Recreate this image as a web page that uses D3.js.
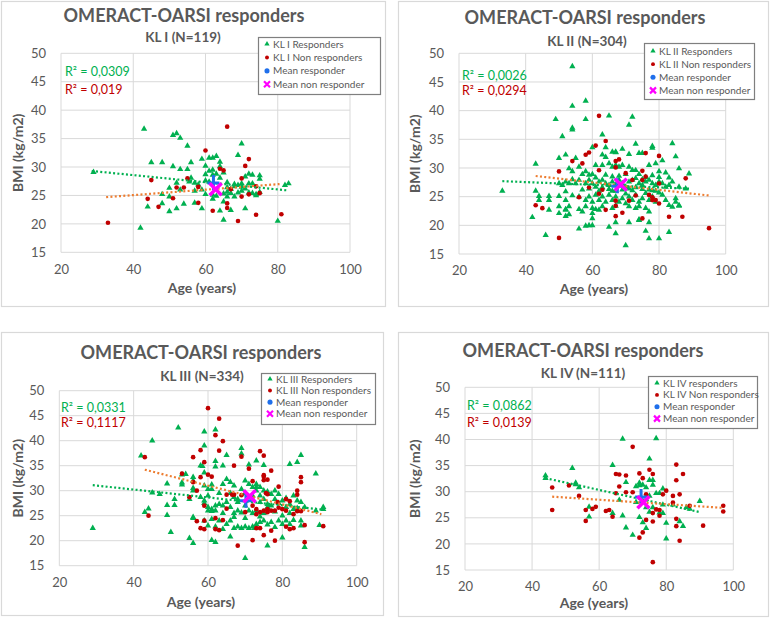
<!DOCTYPE html>
<html>
<head>
<meta charset="utf-8">
<script src="https://cdn.jsdelivr.net/npm/d3@7"></script>
<style>
  html, body { margin: 0; padding: 0; background: #ffffff; }
  svg { display: block; }
  text { font-family: Lato, "Open Sans", "Liberation Sans", sans-serif; }
</style>
</head>
<body>
<svg id="chart" width="770" height="618"></svg>
<script>
// ---------------- DATA ----------------
const xTicks = [20, 40, 60, 80, 100];
const yTicks = [15, 20, 25, 30, 35, 40, 45, 50];
const xTitle = "Age (years)";
const yTitle = "BMI (kg/m2)";
const mainTitles = ["OMERACT-OARSI responders", "OMERACT-OARSI responders", "OMERACT-OARSI responders", "OMERACT-OARSI responders"];
const subTitles = ["KL I (N=119)", "KL II (N=304)", "KL III (N=334)", "KL IV (N=111)"];
const respLabels = ["KL I Responders", "KL II Responders", "KL III Responders", "KL IV responders"];
const nonLabels = ["KL I Non responders", "KL II Non responders", "KL III Non responders", "KL IV Non responders"];
const meanRespLabel = "Mean responder";
const meanNonLabel = "Mean non responder";
const r2Resp = ["R² = 0,0309", "R² = 0,0026", "R² = 0,0331", "R² = 0,0862"];
const r2Non = ["R² = 0,019", "R² = 0,0294", "R² = 0,1117", "R² = 0,0139"];

// KL I  [age, BMI]
const kl1Resp = [[29,29.1],[42,19.3],[43,36.7],[44,23.0],[45,30.8],[48,30.8],[48,25.2],[48,23.6],[50,26.3],[50,24.8],[50,22.2],[51,30.1],[51,35.6],[52,35.9],[53,35.1],[52,22.7],[53,29.6],[54,23.5],[55,33.7],[55,29.6],[56,30.8],[55.5,27.4],[57,23.7],[59,31.4],[59,22.7],[60,30.2],[60,28.7],[60,25.2],[61,31.6],[62,31.6],[63,31.9],[61,27.4],[62,24.4],[62,25.1],[64,30.9],[64,30.1],[64,22.3],[65,23.9],[65,20.7],[66,27.3],[66,24.8],[67,22.4],[67,25.4],[67,26.1],[68,24.8],[69,32.1],[70,34.1],[70,27.1],[70,25.8],[71,22.7],[72,28.8],[72,27.1],[73,27.1],[74,25.2],[75,28.5],[75,27.9],[80,20.5],[82,26.8],[83,27.1],
  [57,27.2],[58,26.9],[60,27.6],[61,29.3],[62,28.6],[63,28.8],[64,28.1],[63,24.9],[65,25.3],[66,25.6],[66,26.4],[68,26.6],[68,27.0],[69,26.8],[69,25.5],[70,26.5],[71,28.3],[73,25.4],[73,28.6],[74,25.0],[75,25.6],[52,27.2],[53,26.0],[56,28.1],[57,25.8],[59,26.0],[71,26.2],[72,25.5],[62,29.5],[65,29.0]];
const kl1Non = [[33,20.2],[44,24.4],[45,27.7],[47,23.0],[51,24.5],[52,26.4],[54,26.4],[55,28.0],[58,26.5],[58,23.7],[60,32.9],[62,22.3],[64,29.7],[65,29.4],[66,37.1],[66,23.6],[66,22.8],[67,26.1],[69,20.5],[70,28.0],[70,24.8],[71,30.2],[72,31.4],[72,25.2],[74,21.6],[75,25.4],[74,26.6],[81,21.7]];
const kl1MeanResp = [62.2, 27.2];
const kl1MeanNon = [62.8, 26.1];
const kl1TrendResp = [[28.5, 29.3], [82.5, 25.9]];
const kl1TrendNon = [[32.5, 24.7], [80.5, 27.0]];

// KL II
const kl2Resp = [[33,26.0],[54,47.7],[54,40.8],[58,41.7],[49,38.5],[58,38.5],[54,37.0],[54,36.7],[65,39.1],[72,38.9],[71,37.5],[51,35.5],[63,35.8],[84,34.3],[73,34.2],[78,33.8],[78,33.5],[74,32.6],[75,32.6],[52,32.3],[50,31.7],[55,31.7],[67,32.8],[69,33.3],[64,33.6],[60,33.6],[85,32.0],[43,30.7],[89,29.0],[86,29.9],[81,31.3],[43,26.0],[42,21.4],[46,18.3],[47,25.1],[47,24.4],[47,22.7],[50,25.1],[50,23.3],[52,22.7],[52,21.6],[53,21.9],[56,19.4],[58,19.9],[59,20.0],[60,20.0],[60,21.2],[61,22.8],[67,18.6],[70,16.5],[67,20.5],[74,21.0],[76,19.0],[77,20.5],[77,17.7],[80,17.7],[83,18.8],[86,23.4],[84,23.2],[85,24.7],
  [63,32.3],[66,32.8],[67,32.7],[71,32.4],
  [53,29.9],[54,29.4],[56,30.2],[58,29.4],[59,28.8],[61,30.5],[63,30.5],[64,31.9],[65,30.8],[67,30.5],[68,30.2],[66,30.2],[69,30.5],[71,30.2],[72,29.6],[73,29.6],[77,30.5],[79,30.8],[80,29.4],[82,29.2],
  [50,27.3],[51,27.0],[52,27.6],[53,27.3],[54,28.0],[55,27.3],[56,27.9],[58,27.3],[59,27.9],[60,27.3],[61,26.7],[62,27.6],[63,27.9],[64,27.3],[65,27.0],[66,27.6],[67,27.0],[68,27.9],[69,27.3],[70,26.7],[71,27.6],[72,27.9],[73,28.2],[74,27.3],[75,27.0],[76,27.6],[77,27.9],[78,27.3],[79,27.0],[80,27.6],[81,27.3],[82,26.7],[83,27.0],[84,27.6],[86,26.7],[88,26.4],
  [44,25.1],[44,24.4],[52,25.9],[52,24.4],[54,25.2],[56,25.0],[58,24.4],[59,25.0],[60,24.1],[61,25.3],[62,24.4],[63,25.0],[64,24.1],[65,25.3],[66,24.4],[67,25.0],[68,24.1],[69,24.7],[70,23.8],[71,25.0],[72,24.4],[73,25.3],[74,24.1],[75,24.7],[76,25.6],[77,24.4],[78,25.0],[79,24.1],[81,25.3],[82,24.4],[83,23.5],[85,24.1],[86,23.5],
  [50,22.1],[52,22.8],[53,23.3],[56,22.8],[57,22.4],[58,23.3],[60,23.0],[60,22.1],[62,22.7],[63,23.3],[66,23.0],[67,23.4],[71,23.3],[73,23.0],[74,23.3],[76,23.0],[77,22.4],[74,20.9],[71,20.5],[65,19.7],
  [57,26.2],[59,26.4],[61,28.3],[62,26.0],[64,28.8],[65,26.3],[66,28.5],[67,26.0],[68,28.6],[69,26.2],[70,28.9],[71,26.4],[72,26.1],[73,26.6],[74,28.9],[75,26.3],[76,28.4],[77,26.2],[78,28.7],[79,26.0],[80,28.4],[57,28.9],[60,28.9],[63,26.6],[66,26.0],[70,25.5],[75,28.0],[78,26.1],[80,25.7],[83,28.3]];
const kl2Non = [[43,23.5],[45,23.0],[50,29.4],[50,17.8],[54,31.2],[56,24.9],[57,30.8],[58,32.3],[59,32.7],[59,26.6],[61,33.9],[62,39.1],[62,29.6],[63,26.2],[64,34.7],[64,22.7],[67,31.2],[68,31.5],[67,30.1],[67,24.3],[67,21.6],[67,23.4],[69,22.2],[70,29.1],[71,24.3],[72,27.9],[73,25.2],[75,29.5],[75,27.9],[76,32.6],[75,21.2],[76,28.5],[77,25.3],[78,24.9],[78,24.4],[79,24.4],[80,32.1],[80,27.3],[80,23.8],[83,21.5],[87,21.5],[88,28.2],[95,19.5],[62,25.5]];
const kl2MeanResp = [67.5, 26.8];
const kl2MeanNon = [68.5, 27.1];
const kl2TrendResp = [[33, 27.7], [89, 26.4]];
const kl2TrendNon = [[43, 28.6], [95, 25.2]];

// KL III
const kl3Resp = [[29,22.5],[42,37.0],[43,25.7],[44,26.4],[45,40.0],[45,29.6],[47,29.3],[49,31.4],[49,27.1],[49,25.1],[50,21.7],[51,28.3],[51,27.1],[52,42.6],[53,31.6],[53,31.2],[54,33.3],[55,20.5],[56,19.5],[56,24.5],[56,32.7],[56,30.5],[58,35.0],[59,39.0],[59,41.8],[59,33.6],[59,27.5],[62,42.2],[62,35.9],[62,34.8],[64,35.0],[65,37.1],[69,38.5],[69,37.4],[70,16.5],[71,35.2],[73,36.0],[75,35.1],[76,19.0],[80,20.6],[82,35.3],[84,35.7],[85,37.1],[86,18.7],[89,33.4],[90,23.1],[91,26.7],[91,26.3],
  [58.5,34.9],[53,33.2],[56,32.0],[56,30.0],[59,31.0],[61,31.2],[61,30.3],[64,31.3],[65,32.3],[66,31.7],[67,31.0],[69,30.3],[70,32.0],[71,31.3],[72,30.7],[73,31.3],[73,30.7],[74,30.7],[75,30.0],[78,30.0],
  [55,28.3],[58,28.7],[59,28.0],[60,26.7],[60,26.0],[61,26.3],[62,27.0],[62,26.0],[63,27.3],[64,27.0],[65,27.7],[66,26.7],[67,28.7],[68,27.7],[68,28.3],[70,27.0],[71,26.0],[72,29.0],[72,28.3],[73,30.0],[74,27.7],[75,28.3],[76,26.7],[76,27.3],[77,29.3],[78,28.3],[79,29.3],[80,28.0],[81,26.7],[82,27.3],[83,26.3],[84,28.0],[85,27.7],[86,26.7],[89,26.0],
  [56,24.7],[59,24.0],[60,23.0],[61,24.3],[62,22.8],[63,24.0],[64,22.3],[65,23.3],[66,24.0],[67,22.5],[68,22.8],[69,22.5],[70,22.8],[71,22.5],[72,22.8],[72.5,22.5],[73,23.3],[74,23.7],[75,24.0],[76,23.2],[77,23.7],[78,22.7],[79,24.0],[80,23.3],[81,24.0],[82,23.3],[83,24.1],[85,24.0],[85,23.0],
  [61,20.1],[62,19.7],[66,20.8],
  [66,29.5],[67,25.5],[68,26.0],[69,25.6],[70,29.5],[71,28.7],[72,25.5],[73,26.0],[74,29.0],[75,25.5],[76,29.8],[77,27.0],[78,25.8],[79,27.5],[80,25.0],[81,28.5],[82,25.5],[83,29.0],[84,26.5],[74,24.8],[70,24.5],[67,24.7],[64,25.5],[63,29.5],[60,29.0],[60,30.3],[61,25.9]];
const kl3Non = [[43,36.7],[44,25.0],[53,33.4],[55,28.7],[56,36.7],[56,31.7],[57,30.0],[57,23.9],[58,38.1],[58,32.7],[58,22.5],[59,35.7],[59,27.0],[59,22.3],[59,24.0],[60,46.5],[60,33.2],[61,32.8],[62,41.1],[62,24.5],[62,22.3],[63,44.4],[63,38.0],[63,22.1],[64,39.9],[64,24.1],[65,26.4],[65,29.2],[66.5,29.2],[67,29.2],[67,35.0],[68,19.0],[69,36.8],[69,29.1],[70,25.7],[71,34.4],[72,27.0],[72,20.1],[72,31.9],[73,26.3],[73,25.3],[73,22.5],[74,37.9],[74,25.7],[74,22.5],[75,37.0],[75,33.1],[75,32.8],[75,32.1],[75,26.0],[75,21.1],[75.6,29.5],[76,32.2],[76,29.3],[76,26.3],[76,25.7],[77,34.0],[77,22.0],[77,26.0],[78,20.0],[78,26.0],[78.7,27.7],[79,30.8],[79,26.6],[80,26.3],[81,28.3],[81,26.0],[81,22.8],[82,27.9],[82,22.3],[83,25.3],[83,22.5],[84,30.0],[84,29.2],[84,25.9],[85,32.7],[85,31.7],[85,25.9],[86,23.1],[86,19.7],[91,22.9]];
const kl3MeanResp = [70.2, 28.0];
const kl3MeanNon = [71.2, 28.9];
const kl3TrendResp = [[29, 31.1], [91, 26.2]];
const kl3TrendNon = [[43, 34.2], [90.5, 25.3]];

// KL IV
const kl4Resp = [[44,33.1],[44,32.6],[52,34.5],[53,31.7],[53,31.4],[54,30.8],[57,27.1],[57,25.2],[64,35.1],[64,25.9],[67,40.1],[67,25.4],[68,23.1],[68,31.8],[70,21.7],[71,31.0],[72,31.7],[72,31.2],[72,25.1],[73,24.1],[74,23.0],[73,31.3],[74,30.8],[74,27.0],[75,36.3],[75,32.2],[76,32.2],[76,31.3],[77,29.7],[77,40.2],[78,29.7],[79,30.6],[79,27.5],[79,25.9],[80,24.0],[80,21.0],[84,24.3],[85,23.4],[86,27.0],[87,26.7],[90,28.2],
  [74,28.5],[75,29.2],[76,27.0],[78,26.0],[82,27.5],[71,28.0],[66,28.4],[75,26.1]];
const kl4Non = [[46,30.8],[46,26.5],[51,31.2],[54,29.2],[56,26.5],[56,24.4],[58,26.7],[59,27.1],[62,26.3],[63,26.5],[64,25.2],[65,29.7],[65,33.4],[66,33.3],[66,31.0],[68,33.1],[68,29.9],[70,29.9],[70,38.6],[72,33.5],[72,21.2],[73,32.6],[73,22.2],[74,24.6],[74,29.5],[75,34.2],[76,33.4],[76,16.5],[76,25.9],[76,24.3],[77,26.6],[78,26.5],[78,25.4],[79,29.5],[80,30.2],[82,27.9],[82,29.2],[83,35.2],[83,32.2],[83,24.8],[83,23.4],[84,29.5],[84,20.6],[85,33.4],[87,27.3],[91,23.5],[97,27.3],[97,26.2]];
const kl4MeanResp = [72.5, 29.0];
const kl4MeanNon = [73.2, 28.0];
const kl4TrendResp = [[44, 32.6], [90, 26.1]];
const kl4TrendNon = [[46, 29.05], [97, 26.9]];

// ---------------- LAYOUT / STYLE ----------------
const COLORS = { resp: "#00B050", non: "#C00000", meanResp: "#1F6FEB", meanNon: "#FF00FF",
                 trendResp: "#00B050", trendNon: "#ED7D31", text: "#595959", grid: "#D9D9D9", frame: "#D9D9D9" };

const panels = [
  { resp: kl1Resp, non: kl1Non, mResp: kl1MeanResp, mNon: kl1MeanNon, tResp: kl1TrendResp, tNon: kl1TrendNon, idx: 0,
    frame: [1, 1, 384, 305], plot: [61, 53.3, 350, 252.3],
    title: [184, 22], sub: [183, 42], xt: [202, 293], r2: [65, 76, 94],
    legend: [258, 37, 122, 57, 44] },
  { resp: kl2Resp, non: kl2Non, mResp: kl2MeanResp, mNon: kl2MeanNon, tResp: kl2TrendResp, tNon: kl2TrendNon, idx: 1,
    frame: [398, 1, 370, 305], plot: [459, 53.3, 725.7, 254],
    title: [585, 24], sub: [587, 46], xt: [594, 294], r2: [462, 80, 95],
    legend: [644, 43, 110, 56, 51] },
  { resp: kl3Resp, non: kl3Non, mResp: kl3MeanResp, mNon: kl3MeanNon, tResp: kl3TrendResp, tNon: kl3TrendNon, idx: 2,
    frame: [1, 332, 382, 283], plot: [59.3, 390.7, 356.7, 565.7],
    title: [201, 359], sub: [202, 381], xt: [201, 607], r2: [61, 412, 427],
    legend: [261, 373, 114, 51, 379] },
  { resp: kl4Resp, non: kl4Non, mResp: kl4MeanResp, mNon: kl4MeanNon, tResp: kl4TrendResp, tNon: kl4TrendNon, idx: 3,
    frame: [398, 332, 370, 284], plot: [465, 387.3, 733.3, 570],
    title: [583, 357], sub: [583, 378], xt: [594, 608], r2: [467, 410, 427],
    legend: [648, 376, 109, 52, 383] }
];

const svg = d3.select("#chart");

function drawPanel(p) {
  const g = svg.append("g");
  const [fx, fy, fw, fh] = p.frame;
  g.append("rect").attr("x", fx + 0.5).attr("y", fy + 0.5).attr("width", fw).attr("height", fh)
    .attr("fill", "#fff").attr("stroke", COLORS.frame).attr("stroke-width", 1.2);

  const [x0, y0, x1, y1] = p.plot;
  const x = d3.scaleLinear().domain([20, 100]).range([x0, x1]);
  const y = d3.scaleLinear().domain([15, 50]).range([y1, y0]);

  // gridlines
  g.append("g").selectAll("line.v").data(xTicks).join("line")
    .attr("x1", d => x(d)).attr("x2", d => x(d)).attr("y1", y0).attr("y2", y1)
    .attr("stroke", COLORS.grid).attr("stroke-width", 1);
  g.append("g").selectAll("line.h").data(yTicks).join("line")
    .attr("y1", d => y(d)).attr("y2", d => y(d)).attr("x1", x0).attr("x2", x1)
    .attr("stroke", COLORS.grid).attr("stroke-width", 1);

  // axes (labels only, via d3 axis)
  const xAxis = d3.axisBottom(x).tickValues(xTicks).tickSize(0).tickPadding(12);
  const yAxis = d3.axisLeft(y).tickValues(yTicks).tickSize(0).tickPadding(15);
  const gx = g.append("g").attr("transform", `translate(0,${y1})`).call(xAxis);
  const gy = g.append("g").attr("transform", `translate(${x0},0)`).call(yAxis);
  [gx, gy].forEach(a => {
    a.select(".domain").remove();
    a.selectAll("text").attr("fill", COLORS.text).style("font-size", "13px")
      .style("font-family", "Lato, 'Open Sans', sans-serif");
  });

  // titles
  g.append("text").attr("x", p.title[0]).attr("y", p.title[1]).attr("text-anchor", "middle")
    .attr("fill", COLORS.text).style("font-size", "18px").style("font-weight", "bold")
    .text(mainTitles[p.idx]);
  g.append("text").attr("x", p.sub[0]).attr("y", p.sub[1]).attr("text-anchor", "middle")
    .attr("fill", COLORS.text).style("font-size", "13.5px").style("font-weight", "bold")
    .text(subTitles[p.idx]);
  g.append("text").attr("x", p.xt[0]).attr("y", p.xt[1]).attr("text-anchor", "middle")
    .attr("fill", COLORS.text).style("font-size", "14px").style("font-weight", "bold")
    .text(xTitle);
  g.append("text").attr("transform", `translate(${fx + 22},${(y0 + y1) / 2}) rotate(-90)`)
    .attr("text-anchor", "middle")
    .attr("fill", COLORS.text).style("font-size", "14px").style("font-weight", "bold")
    .text(yTitle);

  // R² annotations
  g.append("text").attr("x", p.r2[0]).attr("y", p.r2[1]).attr("fill", COLORS.resp)
    .style("font-size", "12.5px").text(r2Resp[p.idx]);
  g.append("text").attr("x", p.r2[0]).attr("y", p.r2[2]).attr("fill", COLORS.non)
    .style("font-size", "12.5px").text(r2Non[p.idx]);

  // scatter: responders
  const tri = d3.symbol(d3.symbolTriangle, 17)();
  const dot = d3.symbol(d3.symbolCircle, 17)();
  g.append("g").selectAll("path").data(p.resp).join("path")
    .attr("d", tri).attr("transform", d => `translate(${x(d[0])},${y(d[1])})`)
    .attr("fill", COLORS.resp);
  g.append("g").selectAll("path").data(p.non).join("path")
    .attr("d", dot).attr("transform", d => `translate(${x(d[0])},${y(d[1])})`)
    .attr("fill", COLORS.non);

  // trend lines
  const line = d3.line().x(d => x(d[0])).y(d => y(d[1]));
  g.append("path").datum(p.tResp).attr("d", line).attr("fill", "none")
    .attr("stroke", COLORS.trendResp).attr("stroke-width", 2.2).attr("stroke-dasharray", "2,2.3");
  g.append("path").datum(p.tNon).attr("d", line).attr("fill", "none")
    .attr("stroke", COLORS.trendNon).attr("stroke-width", 2.2).attr("stroke-dasharray", "2,2.3");

  // means
  const mx = x(p.mResp[0]), my = y(p.mResp[1]);
  g.append("path").attr("d", `M${mx - 6},${my}H${mx + 6}M${mx},${my - 8}V${my + 7}`)
    .attr("stroke", COLORS.meanResp).attr("stroke-width", 3).attr("fill", "none");
  const nx = x(p.mNon[0]), ny = y(p.mNon[1]);
  g.append("path").attr("d", `M${nx - 6},${ny - 6}L${nx + 6},${ny + 6}M${nx - 6},${ny + 6}L${nx + 6},${ny - 6}`)
    .attr("stroke", COLORS.meanNon).attr("stroke-width", 3.5).attr("fill", "none");

  // legend
  const [lx, ly, lw, lh, row0] = p.legend;
  const lg = g.append("g");
  lg.append("rect").attr("x", lx + 0.5).attr("y", ly + 0.5).attr("width", lw).attr("height", lh)
    .attr("fill", "#fff").attr("stroke", "#7F7F7F").attr("stroke-width", 1.2);
  const items = [
    { label: respLabels[p.idx], kind: "tri", color: COLORS.resp },
    { label: nonLabels[p.idx], kind: "dot", color: COLORS.non },
    { label: meanRespLabel, kind: "bigdot", color: COLORS.meanResp },
    { label: meanNonLabel, kind: "x", color: COLORS.meanNon }
  ];
  const step = (lh - 14) / 3.2;
  items.forEach((it, i) => {
    const cy = row0 + i * step;
    const cx = lx + 9;
    if (it.kind === "tri") lg.append("path").attr("d", d3.symbol(d3.symbolTriangle, 12)()).attr("transform", `translate(${cx},${cy})`).attr("fill", it.color);
    if (it.kind === "dot") lg.append("path").attr("d", d3.symbol(d3.symbolCircle, 12)()).attr("transform", `translate(${cx},${cy})`).attr("fill", it.color);
    if (it.kind === "bigdot") lg.append("path").attr("d", d3.symbol(d3.symbolCircle, 20)()).attr("transform", `translate(${cx},${cy})`).attr("fill", it.color);
    if (it.kind === "x") lg.append("path").attr("d", `M${cx - 3},${cy - 3}L${cx + 3},${cy + 3}M${cx - 3},${cy + 3}L${cx + 3},${cy - 3}`).attr("stroke", it.color).attr("stroke-width", 2.2);
    lg.append("text").attr("x", lx + 15).attr("y", cy + 3.6).attr("fill", COLORS.text)
      .style("font-size", "10px").text(it.label);
  });
}

panels.forEach(drawPanel);
</script>
</body>
</html>
